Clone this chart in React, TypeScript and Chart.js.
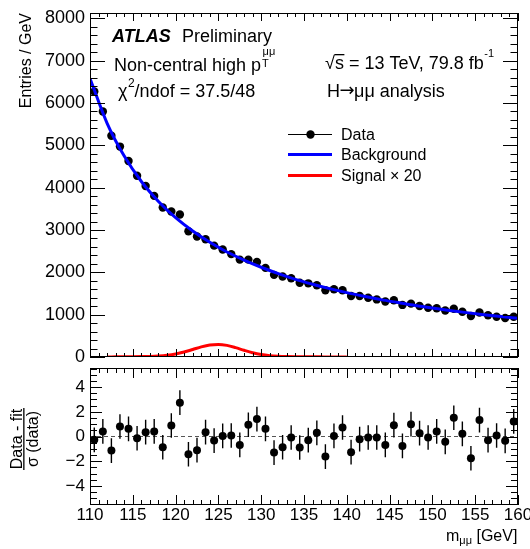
import React, { useEffect, useRef } from 'react';
import { Chart, registerables } from 'chart.js';

Chart.register(...registerables);

const FONT = '"Liberation Sans", Arial, Helvetica, sans-serif';

// ---------------- data ----------------
const massBins = [
  110.5, 111.5, 112.5, 113.5, 114.5, 115.5, 116.5, 117.5, 118.5, 119.5,
  120.5, 121.5, 122.5, 123.5, 124.5, 125.5, 126.5, 127.5, 128.5, 129.5,
  130.5, 131.5, 132.5, 133.5, 134.5, 135.5, 136.5, 137.5, 138.5, 139.5,
  140.5, 141.5, 142.5, 143.5, 144.5, 145.5, 146.5, 147.5, 148.5, 149.5,
  150.5, 151.5, 152.5, 153.5, 154.5, 155.5, 156.5, 157.5, 158.5, 159.5,
];

const entries = [
  6270, 5800, 5225, 4970, 4630, 4280, 4040, 3805, 3530, 3435,
  3365, 2970, 2845, 2780, 2630, 2540, 2430, 2300, 2300, 2245,
  2105, 1940, 1900, 1860, 1755, 1740, 1695, 1575, 1600, 1575,
  1440, 1440, 1400, 1360, 1310, 1340, 1230, 1260, 1205, 1165,
  1150, 1100, 1140, 1070, 970, 1050, 985, 950, 920, 950,
];

const pulls = [
  -0.27, 0.41, -1.14, 0.81, 0.62, -0.14, 0.35, 0.41, -0.87, 0.89,
  2.74, -1.44, -1.11, 0.35, -0.33, 0.05, 0.08, -0.68, 0.95, 1.41,
  0.62, -1.3, -0.87, -0.08, -0.89, -0.3, 0.3, -1.63, 0.05, 0.73,
  -1.27, -0.22, -0.08, -0.08, -0.68, 0.92, -0.76, 1.0, 0.27, -0.08,
  0.41, -0.43, 1.52, 0.22, -1.76, 1.33, -0.3, 0.08, -0.35, 1.22,
];
const pullError = 1;

const bkgMass = [
  110, 112, 114, 116, 118, 120, 122, 124, 126, 128, 130, 132, 134,
  136, 138, 140, 142, 144, 146, 148, 150, 152, 154, 156, 158, 160,
];
const bkgFit = [
  6580, 5520, 4745, 4145, 3675, 3290, 2975, 2710, 2480, 2290, 2120, 1970, 1835,
  1720, 1615, 1520, 1435, 1355, 1285, 1215, 1155, 1100, 1048, 1000, 955, 915,
];

const sigMass = [
  112, 113, 114, 115, 116, 117, 118, 119, 120, 121, 122, 123, 124, 125, 126,
  127, 128, 129, 130, 131, 132, 133, 134, 135, 136, 137, 138, 139, 140,
];
const sigX20 = [
  2, 3, 4, 6, 9, 14, 24, 42, 72, 118, 178, 240, 285, 298, 275,
  222, 158, 100, 58, 32, 18, 11, 7, 5, 4, 3, 2, 2, 1,
];

const xTickValues = [110, 115, 120, 125, 130, 135, 140, 145, 150, 155, 160];
const yTopTickValues = [0, 1000, 2000, 3000, 4000, 5000, 6000, 7000, 8000];
const yBotTickValues = [-4, -2, 0, 2, 4];

const xRange = { min: 110, max: 160, major: 5, minor: 1 };
const yTopRange = { min: 0, max: 8125, major: 1000, minor: 200 };
const yBotRange = { min: -5.55, max: 5.55, major: 2, minor: 0.5 };

// ---------------- layout ----------------
const W = 530;
const TOP_H = 380;
const BOT_TOP = 350;
const BOT_H = 199;

type TickCfg = {
  xMaj: number; xMin: number; yMaj: number; yMin: number;
  xMajLen: number; xMinLen: number; yMajLen: number; yMinLen: number;
};

function framePlugin(id: string, c: TickCfg) {
  return {
    id,
    afterDatasetsDraw(chart: any) {
      const { ctx, chartArea: a, scales } = chart;
      const xs = scales.x;
      const ys = scales.y;
      ctx.save();
      ctx.strokeStyle = '#000';
      ctx.lineWidth = 1;
      ctx.beginPath();
      const nx = Math.round((xs.max - xs.min) / c.xMin);
      for (let i = 0; i <= nx; i++) {
        const v = xs.min + i * c.xMin;
        const r = v / c.xMaj;
        const major = Math.abs(r - Math.round(r)) < 1e-6;
        const len = major ? c.xMajLen : c.xMinLen;
        const px = Math.round(xs.getPixelForValue(v)) + 0.5;
        ctx.moveTo(px, a.bottom);
        ctx.lineTo(px, a.bottom - len);
        ctx.moveTo(px, a.top);
        ctx.lineTo(px, a.top + len);
      }
      const start = Math.ceil(ys.min / c.yMin - 1e-9);
      const end = Math.floor(ys.max / c.yMin + 1e-9);
      for (let k = start; k <= end; k++) {
        const v = k * c.yMin;
        const r = v / c.yMaj;
        const major = Math.abs(r - Math.round(r)) < 1e-6;
        const len = major ? c.yMajLen : c.yMinLen;
        const py = Math.round(ys.getPixelForValue(v)) + 0.5;
        ctx.moveTo(a.left, py);
        ctx.lineTo(a.left + len, py);
        ctx.moveTo(a.right, py);
        ctx.lineTo(a.right - len, py);
      }
      ctx.stroke();
      ctx.strokeRect(Math.round(a.left) + 0.5, Math.round(a.top) + 0.5,
        Math.round(a.right - a.left) - 1, Math.round(a.bottom - a.top) - 1);
      ctx.restore();
    },
  };
}

function f(size: number, style = '', family = FONT) {
  return `${style}${size}px ${family}`;
}

const topTextPlugin = {
  id: 'topText',
  afterDraw(chart: any) {
    const ctx: CanvasRenderingContext2D = chart.ctx;
    ctx.save();
    ctx.fillStyle = '#000';
    ctx.textAlign = 'left';
    ctx.textBaseline = 'alphabetic';

    // y-axis title
    ctx.save();
    ctx.translate(31, 13);
    ctx.rotate(-Math.PI / 2);
    ctx.textAlign = 'right';
    ctx.font = f(16);
    ctx.fillText('Entries / GeV', 0, 0);
    ctx.restore();

    // ATLAS Preliminary
    ctx.font = f(18, 'italic bold ');
    ctx.fillText('ATLAS', 112, 42);
    ctx.font = f(18);
    ctx.fillText('Preliminary', 182, 42);

    // Non-central high pT^mumu
    ctx.font = f(18);
    const t1 = 'Non-central high p';
    ctx.fillText(t1, 114, 70.5);
    const pEnd = 114 + ctx.measureText(t1).width;
    ctx.font = f(11);
    ctx.fillText('T', pEnd + 1, 67);
    ctx.fillText('μμ', pEnd + 1.5, 54.5);

    // chi2/ndof
    ctx.font = f(18);
    ctx.fillText('χ', 118, 96.7);
    const chiEnd = 118 + ctx.measureText('χ').width;
    ctx.font = f(12);
    ctx.fillText('2', chiEnd + 0.5, 87);
    const twoEnd = chiEnd + 0.5 + ctx.measureText('2').width;
    ctx.font = f(18);
    ctx.fillText('/ndof = 37.5/48', twoEnd, 96.7);

    // sqrt(s) line
    ctx.font = f(18);
    ctx.fillText('√', 325, 68.5);
    const sqEnd = 325 + ctx.measureText('√').width;
    ctx.fillText('s', sqEnd, 68.5);
    const sEnd = sqEnd + ctx.measureText('s').width;
    ctx.fillRect(sqEnd - 0.5, 54, sEnd - sqEnd + 1, 1.3);
    const rest = ' = 13 TeV, 79.8 fb';
    ctx.fillText(rest, sEnd, 68.5);
    const restEnd = sEnd + ctx.measureText(rest).width;
    ctx.font = f(11);
    ctx.fillText('-1', restEnd + 0.5, 57);

    // H -> mumu analysis
    ctx.font = f(18);
    ctx.fillText('H', 327, 96.7);
    let hx = 327 + ctx.measureText('H').width;
    ctx.font = f(18, '', '"DejaVu Sans", sans-serif');
    ctx.fillText('→', hx - 0.5, 95.5);
    hx += ctx.measureText('→').width - 1;
    ctx.font = f(18);
    ctx.fillText('μμ analysis', hx, 96.7);

    // legend
    const lx0 = 288;
    const lx1 = 332;
    const tx = 341;
    const rows = [134, 154.5, 175.5];
    ctx.font = f(16);
    ctx.strokeStyle = '#000';
    ctx.lineWidth = 1;
    ctx.beginPath();
    ctx.moveTo(lx0, rows[0] + 0.5);
    ctx.lineTo(lx1, rows[0] + 0.5);
    ctx.stroke();
    ctx.beginPath();
    ctx.arc(310.5, rows[0] + 0.5, 4.2, 0, Math.PI * 2);
    ctx.fill();
    ctx.fillText('Data', tx, rows[0] + 5.5);
    ctx.strokeStyle = '#0000ff';
    ctx.lineWidth = 3;
    ctx.beginPath();
    ctx.moveTo(lx0, rows[1]);
    ctx.lineTo(lx1, rows[1]);
    ctx.stroke();
    ctx.fillText('Background', tx, rows[1] + 5.5);
    ctx.strokeStyle = '#ff0000';
    ctx.beginPath();
    ctx.moveTo(lx0, rows[2]);
    ctx.lineTo(lx1, rows[2]);
    ctx.stroke();
    ctx.fillText('Signal × 20', tx, rows[2] + 5.5);

    ctx.restore();
  },
};

const botTextPlugin = {
  id: 'botText',
  afterDatasetsDraw(chart: any) {
    const { ctx, chartArea: a, scales } = chart;
    const xs = scales.x;
    const ys = scales.y;
    ctx.save();
    ctx.beginPath();
    ctx.rect(a.left, a.top, a.right - a.left, a.bottom - a.top);
    ctx.clip();
    ctx.strokeStyle = '#000';
    ctx.lineWidth = 1.4;
    ctx.beginPath();
    massBins.forEach((m, i) => {
      const px = xs.getPixelForValue(m);
      ctx.moveTo(px, ys.getPixelForValue(pulls[i] - pullError));
      ctx.lineTo(px, ys.getPixelForValue(pulls[i] + pullError));
    });
    ctx.stroke();
    ctx.restore();
  },
  afterDraw(chart: any) {
    const ctx: CanvasRenderingContext2D = chart.ctx;
    const off = BOT_TOP;
    ctx.save();
    ctx.fillStyle = '#000';
    ctx.textBaseline = 'alphabetic';
    ctx.save();
    ctx.translate(25, 439 - off);
    ctx.rotate(-Math.PI / 2);
    ctx.textAlign = 'center';
    ctx.font = f(16);
    ctx.fillText('Data - fit', 0, -3);
    ctx.fillRect(-31, -1.8, 62, 1.3);
    ctx.fillText('σ (data)', 0, 13);
    ctx.restore();
    ctx.textAlign = 'left';
    ctx.font = f(16);
    let x = 446;
    ctx.fillText('m', x, 541 - off);
    x += ctx.measureText('m').width;
    ctx.font = f(11);
    ctx.fillText('μμ', x, 543.5 - off);
    x += ctx.measureText('μμ').width;
    ctx.font = f(16);
    ctx.fillText(' [GeV]', x, 541 - off);
    ctx.restore();
  },
};

export default function App() {
  const topRef = useRef<HTMLCanvasElement | null>(null);
  const botRef = useRef<HTMLCanvasElement | null>(null);

  useEffect(() => {
    Chart.defaults.font.family = FONT;
    Chart.defaults.color = '#000';

    const top = new Chart(topRef.current as HTMLCanvasElement, {
      type: 'line',
      data: {
        datasets: [
          {
            label: 'Background',
            data: bkgMass.map((x, i) => ({ x, y: bkgFit[i] })),
            borderColor: '#0000ff',
            borderWidth: 3,
            pointRadius: 0,
            cubicInterpolationMode: 'monotone',
            fill: false,
            order: 0,
            clip: 0,
          } as any,
          {
            label: 'Signal × 20',
            data: sigMass.map((x, i) => ({ x, y: sigX20[i] })),
            borderColor: '#ff0000',
            borderWidth: 3,
            pointRadius: 0,
            cubicInterpolationMode: 'monotone',
            fill: false,
            order: 1,
            clip: 0,
          } as any,
          {
            label: 'Data',
            data: massBins.map((x, i) => ({ x, y: entries[i] })),
            showLine: false,
            pointRadius: 4.2,
            pointBackgroundColor: '#000',
            pointBorderColor: '#000',
            pointBorderWidth: 0,
            order: 2,
          } as any,
        ],
      },
      options: {
        animation: false,
        responsive: false,
        devicePixelRatio: 1,
        events: [],
        layout: { padding: { left: 0, right: W - 518, top: 13, bottom: TOP_H - 357 } },
        plugins: { legend: { display: false }, tooltip: { enabled: false } },
        scales: {
          x: { type: 'linear', min: xRange.min, max: xRange.max, display: false },
          y: {
            type: 'linear',
            min: yTopRange.min,
            max: yTopRange.max,
            grid: { display: false, drawTicks: false },
            border: { display: false },
            afterBuildTicks: (s: any) => {
              s.ticks = yTopTickValues.map((v) => ({ value: v }));
            },
            ticks: {
              padding: 5,
              color: '#000',
              font: { family: FONT, size: 18 },
              callback: (v: any) => String(v),
            },
            afterFit: (s: any) => {
              s.width = 90;
              s.paddingTop = 0;
              s.paddingBottom = 0;
            },
          },
        },
      } as any,
      plugins: [
        framePlugin('frameTop', {
          xMaj: xRange.major, xMin: xRange.minor, yMaj: yTopRange.major, yMin: yTopRange.minor,
          xMajLen: 8, xMinLen: 4, yMajLen: 15, yMinLen: 7.5,
        }),
        topTextPlugin,
      ],
    });

    const bot = new Chart(botRef.current as HTMLCanvasElement, {
      type: 'line',
      data: {
        datasets: [
          {
            label: 'Pull',
            data: massBins.map((x, i) => ({ x, y: pulls[i] })),
            showLine: false,
            pointRadius: 4,
            pointBackgroundColor: '#000',
            pointBorderColor: '#000',
            pointBorderWidth: 0,
            order: 0,
          } as any,
          {
            label: 'zero',
            data: [{ x: xRange.min, y: 0 }, { x: xRange.max, y: 0 }],
            borderColor: '#555',
            borderWidth: 1,
            borderDash: [4, 3],
            pointRadius: 0,
            fill: false,
            order: 1,
          } as any,
        ],
      },
      options: {
        animation: false,
        responsive: false,
        devicePixelRatio: 1,
        events: [],
        layout: { padding: { left: 0, right: W - 518, top: 368 - BOT_TOP, bottom: BOT_H - (505 - BOT_TOP) - 20 } },
        plugins: { legend: { display: false }, tooltip: { enabled: false } },
        scales: {
          x: {
            type: 'linear',
            min: xRange.min,
            max: xRange.max,
            grid: { display: false, drawTicks: false },
            border: { display: false },
            afterBuildTicks: (s: any) => {
              s.ticks = xTickValues.map((v) => ({ value: v }));
            },
            ticks: {
              padding: 0,
              autoSkip: false,
              maxRotation: 0,
              color: '#000',
              font: { family: FONT, size: 17 },
              callback: (v: any) => String(v),
            },
            afterFit: (s: any) => {
              s.height = 20;
              s.paddingLeft = 0;
              s.paddingRight = 0;
            },
          },
          y: {
            type: 'linear',
            min: yBotRange.min,
            max: yBotRange.max,
            grid: { display: false, drawTicks: false },
            border: { display: false },
            afterBuildTicks: (s: any) => {
              s.ticks = yBotTickValues.map((v) => ({ value: v }));
            },
            ticks: {
              padding: 5,
              color: '#000',
              font: { family: FONT, size: 17 },
              callback: (v: any) => (Number(v) < 0 ? '\u2212' + Math.abs(Number(v)) : String(v)),
            },
            afterFit: (s: any) => {
              s.width = 90;
              s.paddingTop = 0;
              s.paddingBottom = 0;
            },
          },
        },
      } as any,
      plugins: [
        framePlugin('frameBot', {
          xMaj: xRange.major, xMin: xRange.minor, yMaj: yBotRange.major, yMin: yBotRange.minor,
          xMajLen: 10, xMinLen: 5, yMajLen: 12, yMinLen: 7,
        }),
        botTextPlugin,
      ],
    });

    return () => {
      top.destroy();
      bot.destroy();
    };
  }, []);

  return (
    <div style={{ position: 'fixed', left: 0, top: 0, width: W, height: 549, background: '#fff' }}>
      <canvas
        ref={topRef}
        width={W}
        height={TOP_H}
        style={{ position: 'absolute', left: 0, top: 0, width: W, height: TOP_H }}
      />
      <canvas
        ref={botRef}
        width={W}
        height={BOT_H}
        style={{ position: 'absolute', left: 0, top: BOT_TOP, width: W, height: BOT_H }}
      />
    </div>
  );
}
